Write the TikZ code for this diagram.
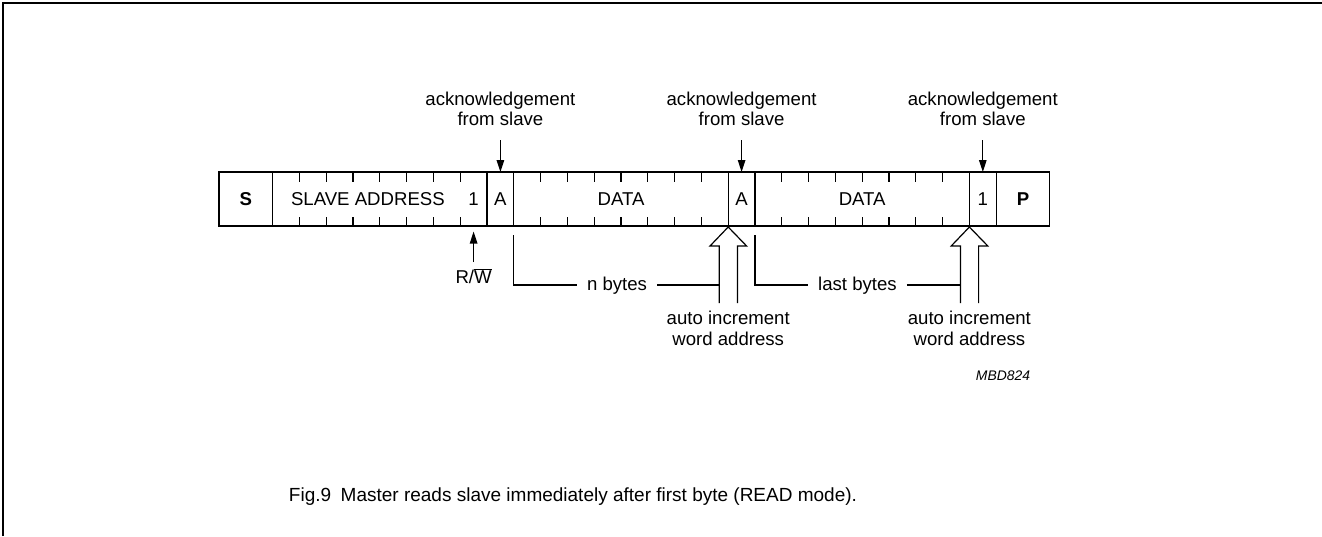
\documentclass[tikz,border=0pt]{standalone}
\usepackage{fontspec}
\setmainfont{Liberation Sans}
\usetikzlibrary{arrows.meta,calc}
\begin{document}
\begin{tikzpicture}[x=1pt,y=-1pt,
  cell/.style={draw,line width=1.3pt,inner sep=0pt,outer sep=0pt,minimum height=54pt,anchor=north west,font=\fontsize{18.6}{20.6}\selectfont},
  lbl/.style={font=\fontsize{18.6}{20.6}\selectfont,inner sep=0pt,align=center},
  tickline/.style={line width=1.2pt},
  arr/.style={line width=1.2pt,-{Triangle[length=12pt,width=7.5pt]}},
  brk/.style={line width=1.1pt},
  hol/.style={line width=1.2pt,line join=miter},
  gaplbl/.style={font=\fontsize{18.6}{20.6}\selectfont,inner ysep=0pt,inner xsep=10pt}]
\def\w{26.8}
\useasboundingbox (0,0) rectangle (1322,536);
\draw[line width=1.8pt] (3,536) -- (3,3) -- (1322,3);
% cells
\node[cell,minimum width=53.6pt] (S) at (219,172) {\bfseries S};
\node[cell,minimum width=214.4pt] (SA) at (S.north east) {};
\node[cell,minimum width=26.8pt] (A1) at (SA.north east) {A};
\node[cell,minimum width=214.4pt] (D1) at (A1.north east) {DATA};
\node[cell,minimum width=26.8pt] (A2) at (D1.north east) {A};
\node[cell,minimum width=214.4pt] (D2) at (A2.north east) {DATA};
\node[cell,minimum width=26.8pt] (one) at (D2.north east) {1};
\node[cell,minimum width=53.6pt] (P) at (one.north east) {\bfseries P};
\node[lbl] (satext) at ($(SA.west)+(95.3,0)$) {SLAVE ADDRESS};
\node[lbl] (rwbit) at ($(SA.east)+(-13.4,0)$) {1};
% ticks
\foreach \c in {SA,D1,D2}{
  \foreach \i in {1,...,7}{
    \draw[tickline] ($(\c.north west)+(\i*\w,0)$) -- ++(0,9.5);
    \draw[tickline] ($(\c.south west)+(\i*\w,0)$) -- ++(0,-9.5);
  }
}
% acknowledgement arrows
\node[lbl,anchor=base] (ack1) at (A1.north |- 0,125.7) {acknowledgement\\from slave};
\node[lbl,anchor=base] (ack2) at (A2.north |- 0,125.7) {acknowledgement\\from slave};
\node[lbl,anchor=base] (ack3) at (one.north |- 0,125.7) {acknowledgement\\from slave};
\coordinate (t1) at (A1.north |- 0,140);
\coordinate (t2) at (A2.north |- 0,140);
\coordinate (t3) at (one.north |- 0,140);
\draw[arr] (t1) -- (A1.north);
\draw[arr] (t2) -- (A2.north);
\draw[arr] (t3) -- (one.north);
% R/W
\node[lbl,anchor=base] (rw) at (rwbit.center |- 0,283) {R/$\overline{\hbox{W}}$};
\coordinate (rwfrom) at (rwbit.center |- 0,262);
\coordinate (rwtip) at (rwbit.center |- 0,231.5);
\draw[arr] (rwfrom) -- (rwtip);
% hollow arrows
\draw[hol] ($(D1.south east)+(-9,77)$) -- ++(0,-57) -- ++(-9.2,0) -- ($(D1.south east)+(0,1)$) -- ($(D1.south east)+(18.4,20)$) -- ++(-9.2,0) -- ++(0,57);
\draw[hol] ($(D2.south east)+(-9,77)$) -- ++(0,-57) -- ++(-9.2,0) -- ($(D2.south east)+(0,1)$) -- ($(D2.south east)+(18.4,20)$) -- ++(-9.2,0) -- ++(0,57);
\node[lbl,anchor=base] (ai1) at ($(D1.south east)+(0,119)$) {auto increment\\word address};
\node[lbl,anchor=base] (ai2) at ($(D2.south east)+(0,119)$) {auto increment\\word address};
% brackets
\node[gaplbl,anchor=base] (nb) at (617,290) {n bytes};
\node[gaplbl,anchor=base] (lb) at (857.5,290) {last bytes};
\coordinate (b1a) at ($(D1.south west)+(0,9)$);
\coordinate (b1b) at ($(D1.south west)+(0,59)$);
\coordinate (b1c) at ($(D1.south east)+(-9,59)$);
\coordinate (b2a) at ($(D2.south west)+(0,9)$);
\coordinate (b2b) at ($(D2.south west)+(0,59)$);
\coordinate (b2c) at ($(D2.south east)+(-9,59)$);
\draw[brk] (b1a) -- (b1b) -- (b1b -| nb.west);
\draw[brk] (b1c -| nb.east) -- (b1c);
\draw[brk] (b2a) -- (b2b) -- (b2b -| lb.west);
\draw[brk] (b2c -| lb.east) -- (b2c);
% id and caption
\node[inner sep=0pt,anchor=base,font=\fontsize{13.9}{16}\selectfont\itshape] (id) at (1003,380) {MBD824};
\node[inner sep=0pt,anchor=base,font=\fontsize{19}{22}\selectfont] (cap) at (573,501) {Fig.9\hspace{0.5em}Master reads slave immediately after first byte (READ mode).};
\end{tikzpicture}
\end{document}
